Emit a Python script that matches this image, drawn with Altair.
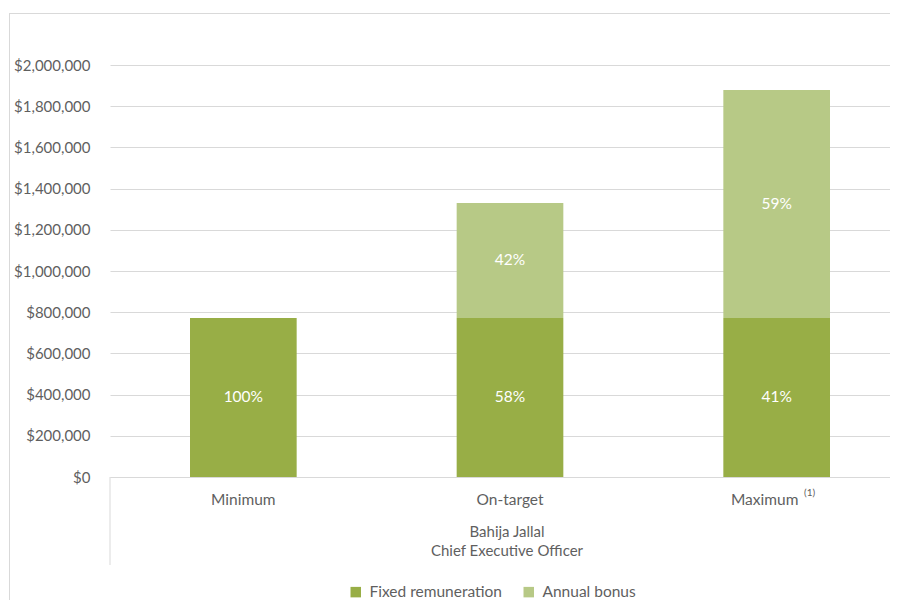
import altair as alt
import pandas as pd

categories = ["Minimum", "On-target", "Maximum"]
footnote_cat = "Maximum"
footnote = "(1)"
fixed = [772000, 772000, 772000]
bonus = [0, 558000, 1107000]
fixed_pct = ["100%", "58%", "41%"]
bonus_pct = ["", "42%", "59%"]
series = ["Fixed remuneration", "Annual bonus"]
colors = ["#98AE46", "#B7C986"]
group_label = "Bahija Jallal\nChief Executive Officer"

rows = []
for c, f, b, fp, bp in zip(categories, fixed, bonus, fixed_pct, bonus_pct):
    rows.append({"cat": c, "series": series[0], "y0": 0, "y1": f, "mid": f / 2, "label": fp})
    if b > 0:
        rows.append({"cat": c, "series": series[1], "y0": f, "y1": f + b, "mid": f + b / 2, "label": bp})
df = pd.DataFrame(rows)
cat_df = pd.DataFrame({"cat": categories})

FONT = "Lato"
GREY = "#5f5f5f"
LINE = "#D9D9D9"

xscale = alt.Scale(domain=categories, range=[0, 800], paddingInner=0.6, paddingOuter=0.3)
yscale = alt.Scale(domain=[0, 2000000])

bars = alt.Chart(df).mark_bar().encode(
    x=alt.X("cat:N", sort=categories, scale=xscale, title=None,
            axis=alt.Axis(labels=False, ticks=False, domainColor=LINE, grid=False)),
    y=alt.Y("y0:Q", scale=yscale, title=None,
            axis=alt.Axis(values=list(range(0, 2000001, 200000)), format="$,.0f", domain=False,
                          ticks=False, gridColor=LINE, labelColor=GREY, labelFontSize=15,
                          labelFont=FONT, labelPadding=20)),
    y2="y1:Q",
    color=alt.Color("series:N", scale=alt.Scale(domain=series, range=colors),
                    legend=alt.Legend(title=None, orient="none", legendX=238, legendY=519,
                                      direction="horizontal", symbolType="square", symbolSize=110,
                                      symbolStrokeWidth=0, labelFontSize=15.5, labelFont=FONT,
                                      labelColor=GREY, columnPadding=19, labelOffset=6)),
)

labels = alt.Chart(df).mark_text(color="white", fontSize=15.5, font=FONT).encode(
    x=alt.X("cat:N", sort=categories, scale=xscale),
    y=alt.Y("mid:Q", scale=yscale),
    text="label:N",
)

xl_plain = alt.Chart(cat_df).transform_filter(alt.datum.cat != footnote_cat).mark_text(
    fontSize=15.5, font=FONT, color=GREY, baseline="middle").encode(
    x=alt.X("cat:N", sort=categories, scale=xscale), y=alt.value(435), text="cat:N")
xl_foot = alt.Chart(cat_df).transform_filter(alt.datum.cat == footnote_cat).mark_text(
    fontSize=15.5, font=FONT, color=GREY, baseline="middle", dx=-12).encode(
    x=alt.X("cat:N", sort=categories, scale=xscale), y=alt.value(435), text="cat:N")
xl_sup = alt.Chart(pd.DataFrame({"cat": [footnote_cat], "t": [footnote]})).mark_text(
    fontSize=10, font=FONT, color=GREY, baseline="middle", dx=33).encode(
    x=alt.X("cat:N", sort=categories, scale=xscale), y=alt.value(428), text="t:N")

one = pd.DataFrame({"g": [group_label]})
top_line = alt.Chart(one).mark_rect(color=LINE).encode(
    x=alt.value(-101), x2=alt.value(780), y=alt.value(-52), y2=alt.value(-51))
left_line = alt.Chart(one).mark_rect(color=LINE).encode(
    x=alt.value(-101), x2=alt.value(-100), y=alt.value(-52), y2=alt.value(535))
vline = alt.Chart(one).mark_rule(color=LINE).encode(
    x=alt.value(0), y=alt.value(412), y2=alt.value(500))
group = alt.Chart(one).mark_text(fontSize=15, font=FONT, color=GREY, baseline="top",
                                  lineBreak="\n", lineHeight=19).encode(
    x=alt.value(397), y=alt.value(460), text="g:N")

chart = alt.layer(top_line, left_line, bars, labels, xl_plain, xl_foot, xl_sup, vline, group).properties(
    width=780, height=412,
    padding={"left": 102, "top": 57, "right": 0, "bottom": 123},
    autosize=alt.AutoSizeParams(type="none"),
).configure_view(strokeWidth=0)

chart.save("out.html", embed_options={"renderer": "svg", "actions": False})
